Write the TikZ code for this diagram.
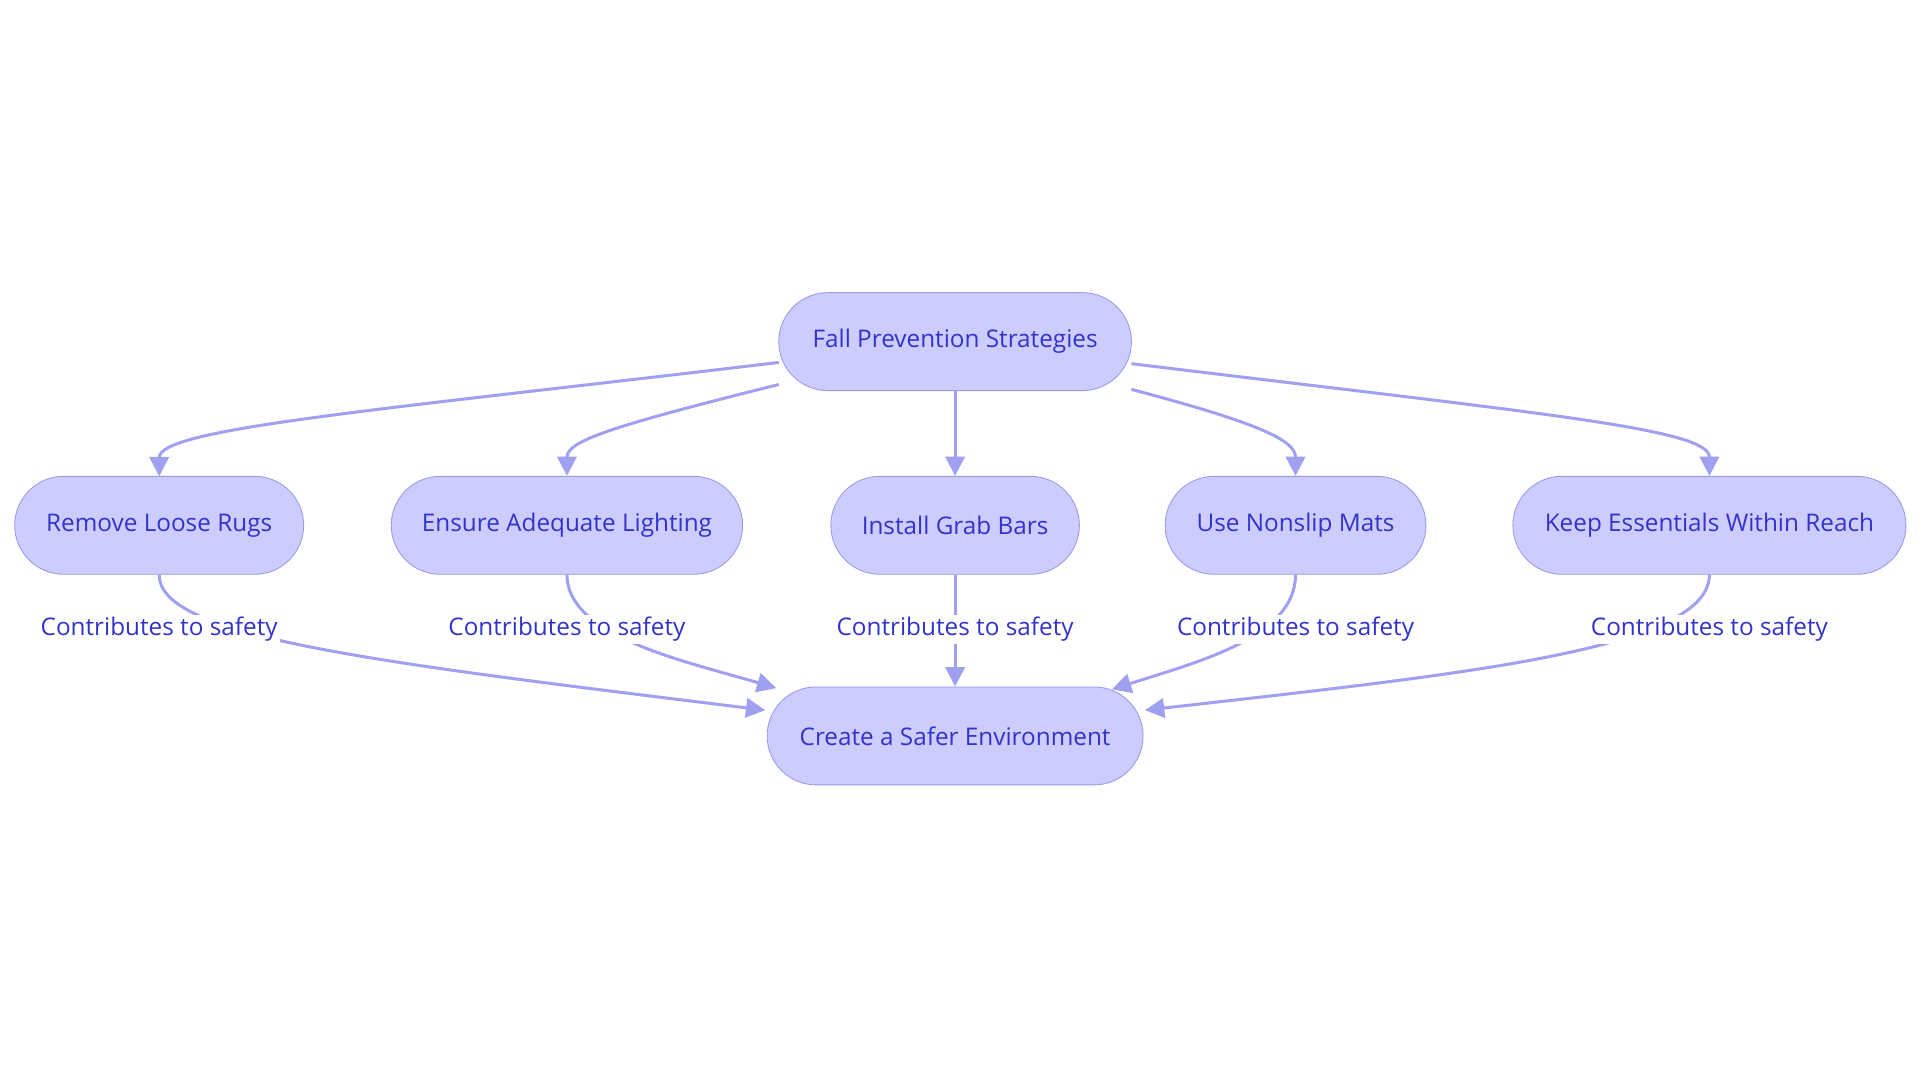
\documentclass[tikz,border=0pt]{standalone}
\usepackage{fontspec}
\setmainfont{Open Sans}
\usetikzlibrary{arrows.meta}
\definecolor{nfill}{HTML}{CCCCFF}
\definecolor{nline}{HTML}{9999EE}
\definecolor{ntext}{HTML}{3333CC}
\definecolor{eline}{HTML}{A0A0F0}
\begin{document}
\begin{tikzpicture}[x=0.02cm,y=-0.02cm,
  box/.style={draw=nline,fill=nfill,rounded corners=40*0.02cm,minimum height=80*0.02cm,text=ntext,font=\fontsize{11.3}{13}\selectfont,inner sep=0pt},
  lab/.style={fill=white,text=ntext,font=\fontsize{11.3}{13}\selectfont,inner sep=1pt},
  ed/.style={draw=eline,line width=1.4pt,-{Triangle[length=9pt,width=9pt]}}]
\useasboundingbox (0,0) rectangle (1568,884);
\node[box,minimum width=288*0.02cm] (top) at (780,279) {Fall Prevention Strategies};
\node[box,minimum width=236*0.02cm] (r1) at (130,429) {Remove Loose Rugs};
\node[box,minimum width=287*0.02cm] (r2) at (463,429) {Ensure Adequate Lighting};
\node[box,minimum width=203*0.02cm] (r3) at (780,429) {Install Grab Bars};
\node[box,minimum width=213*0.02cm] (r4) at (1058,429) {Use Nonslip Mats};
\node[box,minimum width=321*0.02cm] (r5) at (1396,429) {Keep Essentials Within Reach};
\node[box,minimum width=307*0.02cm] (bot) at (780,601) {Create a Safer Environment};
\coordinate (t1) at (636,296); \coordinate (t2) at (636,314);
\coordinate (t4) at (924,318); \coordinate (t5) at (924,297);
\draw[ed] (t1) .. controls (300,336) and (130,350) .. (r1.south |- 0,389);
\draw[ed] (t2) .. controls (500,348) and (463,360) .. (r2.north);
\draw[ed] (top.south) -- (r3.north);
\draw[ed] (t4) .. controls (1030,346) and (1058,360) .. (r4.north);
\draw[ed] (t5) .. controls (1260,338) and (1396,350) .. (r5.north);
\coordinate (b1) at (625,580); \coordinate (b2) at (634,562);
\coordinate (b4) at (908,563); \coordinate (b5) at (935,580);
\draw[ed] (r1.south) .. controls (130,520) and (300,540) .. (b1);
\draw[ed] (r2.south) .. controls (463,520) and (560,540) .. (b2);
\draw[ed] (r3.south) -- (bot.north);
\draw[ed] (r4.south) .. controls (1058,520) and (980,540) .. (b4);
\draw[ed] (r5.south) .. controls (1396,530) and (1200,550) .. (b5);
\node[lab] (l1) at (130,514) {Contributes to safety};
\node[lab] (l2) at (463,514) {Contributes to safety};
\node[lab] (l3) at (780,514) {Contributes to safety};
\node[lab] (l4) at (1058,514) {Contributes to safety};
\node[lab] (l5) at (1396,514) {Contributes to safety};
\end{tikzpicture}
\end{document}
